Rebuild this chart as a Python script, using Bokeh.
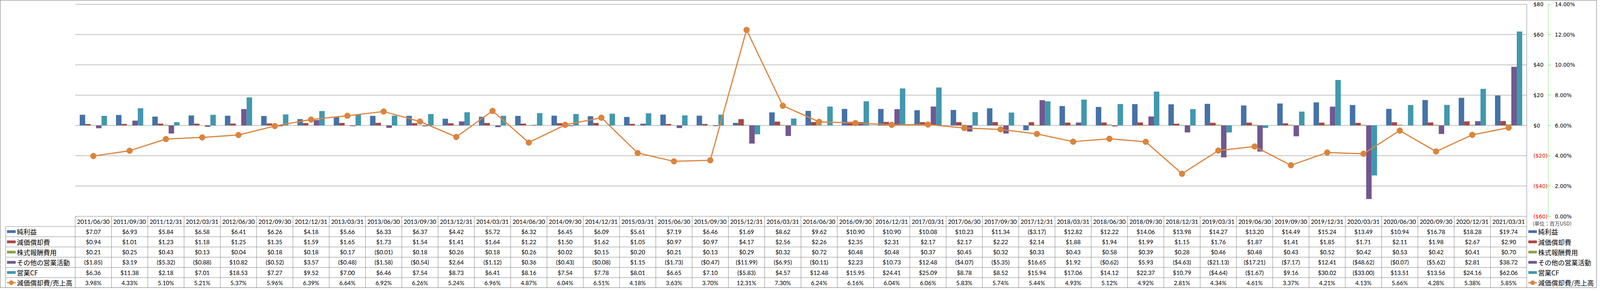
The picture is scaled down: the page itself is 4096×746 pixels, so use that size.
import numpy as np
from bokeh.plotting import figure
from bokeh.models import (Range1d, LinearAxis, FixedTicker, PrintfTickFormatter,
                          CustomJSTickFormatter, ColumnDataSource)
from bokeh.transform import dodge
from bokeh.embed import file_html
from bokeh.resources import INLINE
from bokeh.core.properties import value

# ---------------- data ----------------
dates = ["2011/06/30", "2011/09/30", "2011/12/31", "2012/03/31", "2012/06/30", "2012/09/30",
         "2012/12/31", "2013/03/31", "2013/06/30", "2013/09/30", "2013/12/31", "2014/03/31",
         "2014/06/30", "2014/09/30", "2014/12/31", "2015/03/31", "2015/06/30", "2015/09/30",
         "2015/12/31", "2016/03/31", "2016/06/30", "2016/09/30", "2016/12/31", "2017/03/31",
         "2017/06/30", "2017/09/30", "2017/12/31", "2018/03/31", "2018/06/30", "2018/09/30",
         "2018/12/31", "2019/03/31", "2019/06/30", "2019/09/30", "2019/12/31", "2020/03/31",
         "2020/06/30", "2020/09/30", "2020/12/31", "2021/03/31"]

net_income = [7.07, 6.93, 5.84, 6.58, 6.41, 6.26, 4.18, 5.66, 6.33, 6.37,
              4.42, 5.72, 6.32, 6.45, 6.09, 5.61, 7.19, 6.46, 1.69, 8.62,
              9.62, 10.90, 10.90, 10.08, 10.23, 11.34, -3.17, 12.82, 12.22, 14.06,
              13.98, 14.27, 13.20, 14.49, 15.24, 13.49, 10.94, 16.78, 18.28, 19.74]
depreciation = [0.94, 1.01, 1.23, 1.18, 1.25, 1.35, 1.59, 1.65, 1.73, 1.54,
                1.41, 1.64, 1.22, 1.50, 1.62, 1.05, 0.97, 0.97, 4.17, 2.56,
                2.26, 2.35, 2.31, 2.17, 2.17, 2.22, 2.14, 1.88, 1.94, 1.99,
                1.15, 1.76, 1.87, 1.41, 1.85, 1.71, 2.11, 1.98, 2.67, 2.90]
stock_comp = [0.21, 0.25, 0.43, 0.13, 0.04, 0.18, 0.18, 0.17, -0.01, 0.18,
              0.26, 0.18, 0.26, 0.02, 0.15, 0.20, 0.21, 0.13, 0.29, 0.32,
              0.72, 0.48, 0.48, 0.37, 0.45, 0.32, 0.33, 0.43, 0.58, 0.39,
              0.28, 0.46, 0.48, 0.43, 0.52, 0.42, 0.53, 0.42, 0.41, 0.70]
other_ops = [-1.85, 3.19, -5.32, -0.88, 10.82, -0.52, 3.57, -0.48, -1.58, -0.54,
             2.64, -1.12, 0.36, -0.43, -0.08, 1.15, -1.73, -0.47, -11.99, -6.95,
             -0.11, 2.23, 10.73, 12.48, -4.07, -5.35, 16.65, 1.92, -0.62, 5.93,
             -4.63, -21.13, -17.21, -7.17, 12.41, -48.62, -0.07, -5.62, 2.81, 38.72]
op_cf = [6.36, 11.38, 2.18, 7.01, 18.53, 7.27, 9.52, 7.00, 6.46, 7.54,
         8.73, 6.41, 8.16, 7.54, 7.78, 8.01, 6.65, 7.10, -5.83, 4.57,
         12.48, 15.95, 24.41, 25.09, 8.78, 8.52, 15.94, 17.06, 14.12, 22.37,
         10.79, -4.64, -1.67, 9.16, 30.02, -33.00, 13.51, 13.56, 24.16, 62.06]
dep_ratio = [3.98, 4.33, 5.10, 5.21, 5.37, 5.96, 6.39, 6.64, 6.92, 6.26,
             5.24, 6.96, 4.87, 6.04, 6.51, 4.18, 3.63, 3.70, 12.31, 7.30,
             6.24, 6.16, 6.04, 6.06, 5.83, 5.74, 5.44, 4.93, 5.12, 4.92,
             2.81, 4.34, 4.61, 3.37, 4.21, 4.13, 5.66, 4.28, 5.38, 5.85]

series_names = ["純利益", "減価償却費", "株式報酬費用", "その他の営業活動", "営業CF"]
series_values = [net_income, depreciation, stock_comp, other_ops, op_cf]
series_colors = ["#4572A7", "#AA4643", "#89A54E", "#71588F", "#4198AF"]
line_name = "減価償却費/売上高"
line_color = "#DB843D"
usd_ticks = [-60, -40, -20, 0, 20, 40, 60, 80]
pct_ticks = [0, 2, 4, 6, 8, 10, 12, 14]
unit_label = "(単位：百万USD)"

# ---------------- layout constants ----------------
W, H = 4088, 738
LEFT, RIGHT = 192, 180
TOP, FRAME_H = 9, 545
N = len(dates)
CPX = (W - LEFT - RIGHT) / N
USD_TOP, USD_BOT = 80.4, -60
UPX = FRAME_H / (USD_TOP - USD_BOT)
Y_TOP = USD_TOP + TOP / UPX
Y_BOT = USD_TOP - (H - TOP) / UPX
TABLE_TOP = TOP + FRAME_H
RH = 26.2
GRID = "#868686"
VAL_FONT = "Lato"
JP_FONT = "Noto Sans CJK JP"
AX_FONT = "DejaVu Sans"


def px_x(px):
    return (px - LEFT) / CPX


def fmt_usd(v):
    return f"${v:.2f}" if v >= 0 else f"(${-v:.2f})"


p = figure(width=W, height=H,
           x_range=Range1d(-LEFT / CPX, N + RIGHT / CPX), y_range=Range1d(Y_BOT, Y_TOP),
           output_backend="svg", toolbar_location=None, tools="",
           x_axis_location=None, y_axis_location=None, min_border=0,
           outline_line_color="#8c8c8c", outline_line_width=1.5,
           background_fill_color="white", border_fill_color="white")
p.xgrid.visible = False
p.ygrid.visible = False
p.extra_y_ranges = {"pct": Range1d((Y_BOT + 60) / 10, (Y_TOP + 60) / 10),
                    "px": Range1d(H, 0)}

# gridlines and plot-area right border
p.segment(x0=[0] * len(usd_ticks), x1=[N] * len(usd_ticks), y0=usd_ticks, y1=usd_ticks,
          line_color=GRID, line_width=1.0)
p.segment(x0=[N], x1=[N], y0=[min(usd_ticks)], y1=[max(usd_ticks)],
          line_color=GRID, line_width=1.0)

# bars
src = ColumnDataSource(dict(x=np.arange(N) + 0.5, s0=net_income, s1=depreciation,
                            s2=stock_comp, s3=other_ops, s4=op_cf, ratio=dep_ratio))
BAR_W = 0.15
offsets = [-0.3, -0.15, 0.0, 0.15, 0.3]
for k, (color, off) in enumerate(zip(series_colors, offsets)):
    p.vbar(x=dodge("x", off), top=f"s{k}", bottom=0, width=BAR_W, source=src,
           fill_color=color, line_color=None)

# ratio line
p.line(x="x", y="ratio", source=src, y_range_name="pct", line_color=line_color, line_width=3)
p.scatter(x="x", y="ratio", source=src, y_range_name="pct", marker="circle", size=15,
          fill_color=line_color, line_color=line_color)

# axes on the right
usd_fmt = CustomJSTickFormatter(code="return tick < 0 ? '($' + (-tick) + ')' : '$' + tick;")
for ticks, color in (([v for v in usd_ticks if v >= 0], "black"),
                     ([v for v in usd_ticks if v < 0], "#FF0000")):
    ax = LinearAxis(fixed_location=N, ticker=FixedTicker(ticks=ticks), formatter=usd_fmt,
                    axis_line_color=None, major_tick_line_color=None,
                    minor_tick_line_color=None, major_tick_in=0, major_tick_out=0,
                    major_label_standoff=17, major_label_text_font=AX_FONT,
                    major_label_text_font_size="13.5px", major_label_text_color=color)
    p.add_layout(ax, "right")

pct_axis = LinearAxis(y_range_name="pct", fixed_location=N + 55 / CPX, bounds=(0, 14),
                      ticker=FixedTicker(ticks=pct_ticks),
                      formatter=PrintfTickFormatter(format="%.2f%%"),
                      axis_line_color="#22DD22", axis_line_dash="3 2", axis_line_width=1,
                      major_tick_line_color="#22DD22", major_tick_in=0, major_tick_out=6,
                      minor_tick_line_color=None, major_label_standoff=11,
                      major_label_text_font=AX_FONT, major_label_text_font_size="13.5px",
                      major_label_text_color="black")
p.add_layout(pct_axis, "right")

# ---------------- data table ----------------
x_lab_left = px_x(14)
tb = TABLE_TOP + 7 * RH
x0s, y0s, x1s, y1s = [], [], [], []
for k in range(N + 1):
    x0s.append(k); x1s.append(k); y0s.append(TABLE_TOP); y1s.append(tb)
x0s.append(x_lab_left); x1s.append(x_lab_left); y0s.append(TABLE_TOP + RH); y1s.append(tb)
for r in range(1, 8):
    x0s.append(x_lab_left); x1s.append(N)
    y0s.append(TABLE_TOP + r * RH); y1s.append(TABLE_TOP + r * RH)
p.segment(x0=x0s, y0=y0s, x1=x1s, y1=y1s, y_range_name="px", line_color=GRID, line_width=1.0)

xc = np.arange(N) + 0.5
txt_kw = dict(y_range_name="px", text_font=value(VAL_FONT), text_font_size="15px",
              text_align="center", text_baseline="middle", text_color="black")
p.text(x=xc, y=[TABLE_TOP + 0.5 * RH] * N, text=dates, **txt_kw)
for r, vals in enumerate(series_values, start=1):
    p.text(x=xc, y=[TABLE_TOP + (r + 0.5) * RH] * N, text=[fmt_usd(v) for v in vals], **txt_kw)
p.text(x=xc, y=[TABLE_TOP + 6.5 * RH] * N, text=[f"{v:.2f}%" for v in dep_ratio], **txt_kw)

all_names = series_names + [line_name]
row_y = [TABLE_TOP + (r + 1.5) * RH for r in range(6)]


def draw_keys(sw_left_px, sw_right_px, text_px):
    sw_c = px_x((sw_left_px + sw_right_px) / 2)
    sw_w = (sw_right_px - sw_left_px) / CPX
    p.rect(x=[sw_c] * 5, y=row_y[:5], width=sw_w, height=7, y_range_name="px",
           fill_color=series_colors, line_color=None)
    p.line(x=[px_x(sw_left_px), px_x(sw_right_px)], y=[row_y[5]] * 2, y_range_name="px",
           line_color=line_color, line_width=3)
    p.scatter(x=[sw_c], y=[row_y[5]], y_range_name="px", marker="circle", size=11,
              fill_color=line_color, line_color=line_color)
    p.text(x=[px_x(text_px)] * 6, y=row_y, text=all_names, y_range_name="px",
           text_font=value(JP_FONT), text_font_size="17px", text_align="left",
           text_baseline="middle", text_color="black")


draw_keys(17.4, 39.6, 42.4)
draw_keys(3912, 3934, 3937)

p.text(x=[px_x(3923)], y=[TABLE_TOP + 18], text=[unit_label], y_range_name="px",
       text_font=value(JP_FONT), text_font_size="13px", text_align="left",
       text_baseline="middle", text_color="#404040")

open("out.html", "w").write(file_html(p, INLINE))
